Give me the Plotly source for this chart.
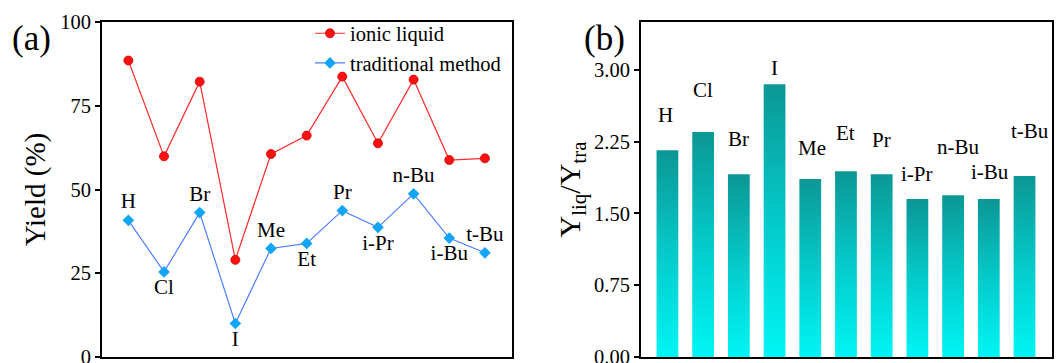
import plotly.graph_objects as go

# ---- data ----
substituents = ["H", "Cl", "Br", "I", "Me", "Et", "Pr", "i-Pr", "n-Bu", "i-Bu", "t-Bu"]
yield_ionic = [88.5, 59.9, 82.2, 29.0, 60.6, 66.1, 83.7, 63.8, 82.8, 58.8, 59.3]
yield_trad = [40.8, 25.4, 43.1, 10.0, 32.4, 33.9, 43.7, 38.7, 48.7, 35.5, 31.1]
ratio = [2.16, 2.35, 1.91, 2.85, 1.86, 1.94, 1.91, 1.65, 1.69, 1.65, 1.89]
yticks_a = [0, 25, 50, 75, 100]
yticks_b = [0.0, 0.75, 1.5, 2.25, 3.0]
yticklabels_b = ["0.00", "0.75", "1.50", "2.25", "3.00"]

# ---- label placement (style) ----
label_pos_a = ["top center", "bottom center", "top center", "bottom center", "top center",
               "bottom center", "top center", "bottom center", "top center", "bottom center",
               "top center"]
label_shift_b = [35, 42, 35, 16, 31, 38, 34, 25, 48, 27, 45]
label_xshift_b = [-2, 0, 0, 0, 2, 0, 0, 0, 5, 1, 5]

FONT = "Liberation Serif"
xs = list(range(len(substituents)))
bar_w = 0.61

fig = go.Figure()

# panel (a)
fig.add_trace(go.Scatter(
    x=xs, y=yield_ionic, mode="lines+markers", name="ionic liquid",
    line=dict(color="#FF2A2A", width=1.2),
    marker=dict(symbol="circle", size=9, color="#FF1010", line=dict(color="#D00000", width=0.8)),
    xaxis="x", yaxis="y"))
fig.add_trace(go.Scatter(
    x=xs, y=yield_trad, mode="lines+markers+text", name="traditional method",
    text=substituents, textposition=label_pos_a,
    textfont=dict(family=FONT, size=21, color="black"),
    line=dict(color="#4F7FFF", width=1.2),
    marker=dict(symbol="diamond", size=9, color="#12A5F5"),
    xaxis="x", yaxis="y"))

# panel (b): bars with vertical gradient
for i, v in enumerate(ratio):
    x0, x1 = i - bar_w / 2, i + bar_w / 2
    fig.add_trace(go.Scatter(
        x=[x0, x1, x1, x0, x0], y=[0, 0, v, v, 0], mode="lines",
        fill="toself", line=dict(width=0, color="rgba(0,0,0,0)"),
        fillgradient=dict(type="vertical", start=0, stop=v,
                          colorscale=[[0, "#00F5F5"], [0.5, "#04CACA"], [1, "#0B9795"]]),
        showlegend=False, hoverinfo="skip", xaxis="x2", yaxis="y2"))

for i, (lab, v) in enumerate(zip(substituents, ratio)):
    fig.add_annotation(x=i, y=v, xref="x2", yref="y2", text=lab, showarrow=False,
                       yanchor="middle", yshift=label_shift_b[i], xshift=label_xshift_b[i],
                       font=dict(family=FONT, size=21, color="black"))

fig.add_annotation(x=0.0094, y=0.8953, xref="paper", yref="paper", text="(a)", showarrow=False,
                   xanchor="left", yanchor="middle", font=dict(family=FONT, size=35, color="black"))
fig.add_annotation(x=0.5496, y=0.8953, xref="paper", yref="paper", text="(b)", showarrow=False,
                   xanchor="left", yanchor="middle", font=dict(family=FONT, size=35, color="black"))

axis_common = dict(showline=True, linecolor="black", linewidth=2, mirror=True,
                   showgrid=False, zeroline=False, automargin=False)

fig.update_layout(
    template="none",
    width=1059, height=363,
    margin=dict(l=0, r=0, t=0, b=0, autoexpand=False),
    paper_bgcolor="white", plot_bgcolor="white",
    font=dict(family=FONT, color="black"),
    showlegend=True,
    legend=dict(x=0.2927, y=0.963, xanchor="left", yanchor="top",
                font=dict(family=FONT, size=20.5), bgcolor="rgba(0,0,0,0)",
                tracegroupgap=0, itemwidth=30),
    xaxis=dict(domain=[0.0963, 0.4835], range=[-0.74, 10.76], showticklabels=False,
               ticks="", **axis_common),
    yaxis=dict(domain=[0.0165, 0.9394], range=[0, 100], tickvals=yticks_a,
               ticks="outside", ticklen=5, tickwidth=1.5, tickcolor="black",
               tickfont=dict(family=FONT, size=20.5), ticklabeloverflow="allow",
               title=dict(text="Yield (%)", font=dict(family=FONT, size=29), standoff=6),
               anchor="x", **axis_common),
    xaxis2=dict(domain=[0.6053, 0.9934], range=[-0.74, 10.77], showticklabels=False,
                ticks="", anchor="y2", **axis_common),
    yaxis2=dict(domain=[0.0165, 0.9394], range=[0, 3.5], tickvals=yticks_b,
                ticktext=yticklabels_b,
                ticks="outside", ticklen=5, tickwidth=1.5, tickcolor="black",
                tickfont=dict(family=FONT, size=20.5), ticklabeloverflow="allow",
                title=dict(text="Y<sub>liq</sub>/Y<sub>tra</sub>", font=dict(family=FONT, size=30), standoff=5),
                anchor="x2", **axis_common),
)

post = ("document.documentElement.style.margin='0';document.body.style.margin='0';"
        "document.body.style.overflow='hidden';"
        "var d=document.getElementById('{plot_id}');d.style.position='fixed';"
        "d.style.left='0px';d.style.top='0px';")
fig.write_html("out.html", config={"displayModeBar": False}, post_script=post)
